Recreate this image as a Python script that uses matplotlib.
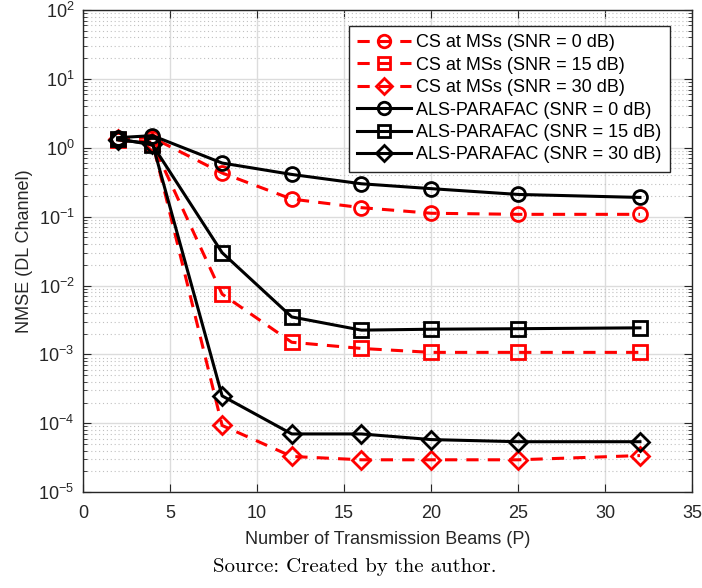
import matplotlib
matplotlib.use("Agg")
import matplotlib.pyplot as plt
from matplotlib.ticker import LogLocator, NullFormatter

plt.rcParams['font.family'] = ['Liberation Sans', 'DejaVu Sans']
plt.rcParams['mathtext.fontset'] = 'custom'
plt.rcParams['mathtext.rm'] = 'Liberation Sans'
plt.rcParams['mathtext.default'] = 'regular'

# data
beams = [2, 4, 8, 12, 16, 20, 25, 32]
cs_0db = [1.35, 1.40, 0.43, 0.18, 0.135, 0.112, 0.108, 0.108]
cs_15db = [1.30, 1.15, 0.0075, 0.0015, 0.00122, 0.00107, 0.00107, 0.00107]
cs_30db = [1.35, 1.20, 9.3e-5, 3.3e-5, 2.95e-5, 2.95e-5, 2.95e-5, 3.4e-5]
als_0db = [1.40, 1.50, 0.60, 0.41, 0.30, 0.255, 0.21, 0.19]
als_15db = [1.35, 1.10, 0.030, 0.0035, 0.00225, 0.00232, 0.00236, 0.00243]
als_30db = [1.30, 1.15, 2.5e-4, 7.0e-5, 7.0e-5, 5.8e-5, 5.4e-5, 5.4e-5]

labels = ['CS at MSs (SNR = 0 dB)', 'CS at MSs (SNR = 15 dB)', 'CS at MSs (SNR = 30 dB)',
          'ALS-PARAFAC (SNR = 0 dB)', 'ALS-PARAFAC (SNR = 15 dB)', 'ALS-PARAFAC (SNR = 30 dB)']

fig = plt.figure(figsize=(7.02, 5.88), dpi=100)
ax = fig.add_axes([0.118, 0.163, 0.868, 0.820])

red = '#ff0000'
kw = dict(linewidth=2.2, markersize=10, markeredgewidth=2, markerfacecolor='none')
ax.plot(beams, cs_0db, '--o', color=red, label=labels[0], dashes=(4, 3), **kw)
ax.plot(beams, cs_15db, '--s', color=red, label=labels[1], dashes=(4, 3), **kw)
ax.plot(beams, cs_30db, '--D', color=red, label=labels[2], dashes=(4, 3),
        **dict(kw, markersize=9))
ax.plot(beams, als_0db, '-o', color='black', label=labels[3], **kw)
ax.plot(beams, als_15db, '-s', color='black', label=labels[4], **kw)
ax.plot(beams, als_30db, '-D', color='black', label=labels[5], **dict(kw, markersize=9))

ax.set_yscale('log')
ax.set_xlim(0, 35)
ax.set_ylim(1e-5, 1e2)
ax.set_xticks([0, 5, 10, 15, 20, 25, 30, 35])
ax.yaxis.set_major_locator(LogLocator(base=10, numticks=10))
ax.yaxis.set_minor_locator(LogLocator(base=10, subs=range(2, 10), numticks=100))
ax.yaxis.set_minor_formatter(NullFormatter())

ax.grid(True, which='major', color='#dcdcdc', linewidth=1.0)
ax.grid(True, which='minor', color='#c0c0c0', linestyle=(0, (1, 2.5)), linewidth=0.8)
ax.set_axisbelow(True)

ax.tick_params(which='both', direction='in', top=True, right=True, colors='#262626',
               labelsize=13)
ax.tick_params(which='major', length=6)
ax.tick_params(which='minor', length=3)
ax.tick_params(axis='x', pad=9)
ax.tick_params(axis='y', pad=6)
for s in ax.spines.values():
    s.set_color('#262626')
    s.set_linewidth(1.0)

ax.set_xlabel('Number of Transmission Beams (P)', fontsize=13, color='#262626', labelpad=7)
ax.set_ylabel('NMSE (DL Channel)', fontsize=13, color='#262626', labelpad=4)

leg = ax.legend(loc='upper right', bbox_to_anchor=(0.978, 0.985), fontsize=13,
                fancybox=False, framealpha=1, edgecolor='#262626',
                handlelength=3.0, labelspacing=0.3, borderpad=0.45, handletextpad=0.3,
                markerscale=0.9)
leg.get_frame().set_linewidth(1.0)

fig.text(0.505, 0.035, 'Source: Created by the author.', family='cmr10', fontsize=15,
         ha='center', va='center')

fig.savefig('out.png', dpi=100)
